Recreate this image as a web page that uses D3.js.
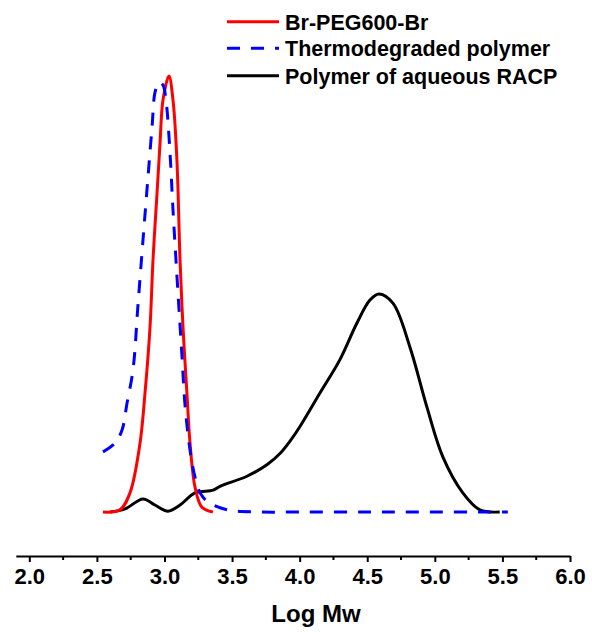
<!DOCTYPE html>
<html><head><meta charset="utf-8">
<script src="https://cdn.jsdelivr.net/npm/d3@7"></script>
<style>body{margin:0;background:#fff}svg{display:block}text{font-family:"Liberation Sans",Arial,sans-serif;font-weight:bold;fill:#000}</style>
</head><body><svg id="c" width="592" height="632"></svg>
<script>
const seriesNames = ["Br-PEG600-Br", "Thermodegraded polymer", "Polymer of aqueous RACP"];
const seriesColors = ["#ff0000", "#0000ff", "#000000"];
const redX = [2.545,2.671,2.745,2.819,2.856,2.893,2.915,2.945,2.967,2.989,3.033,3.063,3.092,3.115,3.137,3.166,3.189,3.226,3.277,3.358];
const redY = [0,0.5,4.4,15.8,27.3,42.4,57.8,73.2,84.6,94.5,100,94.5,80.7,57.8,42.4,27.3,15.8,5.7,1.1,0];
const blueX = [2.545,2.634,2.686,2.723,2.767,2.804,2.841,2.878,2.908,2.930,2.959,2.989,3.011,3.041,3.063,3.100,3.129,3.152,3.189,3.226,3.263,3.322,3.461,3.71,4.0,4.5,5.0,5.54];
const blueY = [13.8,15.8,18.8,25.0,32.6,47.5,62.4,76.8,88.3,96.3,98.6,97.9,94.5,82.3,69.3,50.2,36.0,24.5,14.2,8.0,4.4,2.3,0.5,0,0,0,0,0];
const blackX = [2.597,2.708,2.841,2.93,3.026,3.115,3.226,3.36,3.41,3.61,3.76,3.86,3.93,4.0,4.15,4.297,4.423,4.52,4.586,4.69,4.816,4.941,5.06,5.207,5.333,5.48];
const blackY = [0,0.7,3.0,1.6,0.2,1.6,4.4,5.0,5.9,8.2,10.9,13.6,16.3,19.5,27.3,34.9,43.3,48.6,50.0,47.9,37.8,24.1,12.6,4.4,0.5,0];
const majorTicks = [2.0,2.5,3.0,3.5,4.0,4.5,5.0,5.5,6.0];
const minorTicks = [2.25,2.75,3.25,3.75,4.25,4.75,5.25,5.75];
const xTitle = "Log Mw";

const svg = d3.select("#c");
const x = d3.scaleLinear().domain([1.9, 6]).range([15.8, 570]);
const y = d3.scaleLinear().domain([0, 100]).range([512, 76]);

// axis
const axisY = 556;
const g = svg.append("g").attr("transform", `translate(0,${axisY})`);
g.call(d3.axisBottom(x).tickValues(majorTicks).tickSize(6).tickSizeOuter(0).tickFormat(d3.format(".1f")));
g.call(gg => gg.select(".domain").attr("stroke-width", 2));
g.selectAll(".tick line").attr("stroke-width", 2);
g.selectAll(".tick text").style("font-size", "22px").style("font-weight", "bold").attr("dy", null).attr("y", 28).attr("fill", "#000");
g.selectAll(".minor").data(minorTicks).enter().append("line").attr("class", "minor")
  .attr("x1", d => x(d)).attr("x2", d => x(d)).attr("y1", 0).attr("y2", 4).attr("stroke", "#000").attr("stroke-width", 2);
svg.append("text").attr("x", 316).attr("y", 622).attr("text-anchor", "middle").style("font-size", "24px").text(xTitle);

const line = d3.line().x(d => x(d[0])).y(d => y(d[1])).curve(d3.curveCatmullRom.alpha(0.5));
const series = [d3.zip(redX, redY), d3.zip(blueX, blueY), d3.zip(blackX, blackY)];
const dashes = [null, "13,11", null];
[2, 0, 1].forEach(i => {
  svg.append("path").datum(series[i]).attr("d", line).attr("fill", "none")
    .attr("stroke", seriesColors[i]).attr("stroke-width", 3).attr("stroke-dasharray", dashes[i]);
});

// legend
const legY = [21.7, 48.3, 75.7];
seriesNames.forEach((n, i) => {
  svg.append("line").attr("x1", 227).attr("x2", 279).attr("y1", legY[i]).attr("y2", legY[i])
    .attr("stroke", seriesColors[i]).attr("stroke-width", 3).attr("stroke-dasharray", dashes[i]);
  svg.append("text").attr("x", 285).attr("y", legY[i] + 8).style("font-size", "21.5px").text(n);
});
</script></body></html>
